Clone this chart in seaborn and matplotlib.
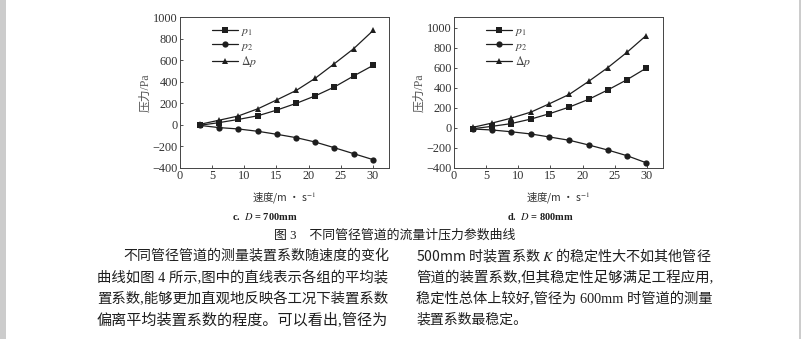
import numpy as np
import pandas as pd
import matplotlib
matplotlib.use("Agg")
import matplotlib.pyplot as plt
import seaborn as sns
from matplotlib.patches import Rectangle

# ---------------- data ----------------
series_names = ["$p_1$", "$p_2$", r"$\Delta p$"]

speed_c = [3.1, 6.0, 9.05, 12.15, 15.1, 18.1, 21.0, 24.0, 27.0, 30.05]
p1_c = [-4, 20, 50, 85, 138, 200, 268, 351, 453, 552]
p2_c = [-5, -25, -38, -60, -88, -119, -159, -212, -267, -323]
dp_c = [5, 42, 82, 150, 233, 320, 431, 567, 706, 876]

speed_d = [2.95, 5.95, 8.8, 12.0, 14.85, 17.95, 20.95, 23.9, 26.9, 29.85]
p1_d = [-7, 17, 43, 90, 143, 210, 287, 380, 483, 597]
p2_d = [-10, -20, -37, -60, -90, -123, -170, -220, -277, -347]
dp_d = [7, 50, 97, 160, 243, 337, 467, 603, 757, 923]

x_ticks = [0, 5, 10, 15, 20, 25, 30]
y_ticks = [-400, -200, 0, 200, 400, 600, 800, 1000]

x_label = "速度/m · s$^{-1}$"
y_label = "压力/Pa"
sub_c = "c.  $\\mathit{D}$ = 700mm"
sub_d = "d.  $\\mathit{D}$ = 800mm"
fig_caption = "图 3　不同管径管道的流量计压力参数曲线"
left_lines = [
    "不同管径管道的测量装置系数随速度的变化",
    "曲线如图 4 所示,图中的直线表示各组的平均装",
    "置系数,能够更加直观地反映各工况下装置系数",
    "偏离平均装置系数的程度。可以看出,管径为",
]
right_lines = [
    "500mm 时装置系数 $K$ 的稳定性大不如其他管径",
    "管道的装置系数,但其稳定性足够满足工程应用,",
    "稳定性总体上较好,管径为 600mm 时管道的测量",
    "装置系数最稳定。",
]

# ---------------- style ----------------
sns.set_theme(style="ticks")
plt.rcParams["font.family"] = ["Liberation Serif", "Noto Sans CJK SC", "DejaVu Sans"]
plt.rcParams["mathtext.fontset"] = "stix"
ink = "#1e1e1e"
txt = "#333333"
cjk_mix = ["Liberation Serif", "Noto Sans CJK SC", "DejaVu Sans"]
cjk_first = ["Noto Sans CJK SC", "DejaVu Sans"]

W, H = 801, 339
fig = plt.figure(figsize=(W / 100, H / 100), dpi=100)
fig.patch.set_facecolor("white")


def px_axes(l, t, r, b):
    return fig.add_axes([l / W, 1 - b / H, (r - l) / W, (b - t) / H])


def make_df(speed, p1, p2, dp):
    rows = []
    for name, vals in zip(series_names, [p1, p2, dp]):
        for s, v in zip(speed, vals):
            rows.append({"speed": s, "pressure": v, "series": name})
    return pd.DataFrame(rows)


markers = {series_names[0]: "s", series_names[1]: "o", series_names[2]: "^"}
palette = {n: ink for n in series_names}


def draw(ax, df, ytop):
    sns.lineplot(data=df, x="speed", y="pressure", hue="series", style="series",
                 markers=markers, dashes=False, palette=palette, ax=ax,
                 linewidth=0.9, markersize=4.5, markeredgewidth=0, sort=False)
    ax.set_xlim(0, 32.5)
    ax.set_ylim(-400, ytop)
    ax.set_xticks(x_ticks)
    ax.set_yticks(y_ticks)
    ax.tick_params(direction="in", length=2.5, width=0.6, labelsize=8.8,
                   colors=txt, pad=1.5)
    for sp in ax.spines.values():
        sp.set_linewidth(0.7)
        sp.set_color("#444444")
    ax.set_xlabel(x_label, fontsize=7.5, color=txt, labelpad=6, family=cjk_first)
    ax.set_ylabel(y_label, fontsize=8.5, color="#555555", labelpad=1, family=cjk_mix)
    leg = ax.legend(loc="upper left", bbox_to_anchor=(0.13, 0.98), frameon=False,
                    fontsize=8.5, handlelength=2.2, handletextpad=0.3,
                    labelspacing=0.15, borderaxespad=0)
    for t in leg.get_texts():
        t.set_color("#444444")


ax1 = px_axes(180, 17, 389, 168)
draw(ax1, make_df(speed_c, p1_c, p2_c, dp_c), 1000)
ax2 = px_axes(454, 17, 663, 168)
draw(ax2, make_df(speed_d, p1_d, p2_d, dp_d), 1110)

# ---------------- page text ----------------
fig.text(265 / W, 1 - 216 / H, sub_c, ha="center", va="center", fontsize=7.5,
         color=ink, weight="bold")
fig.text(540 / W, 1 - 216 / H, sub_d, ha="center", va="center", fontsize=7.5,
         color=ink, weight="bold")
fig.text(274 / W, 1 - 235 / H, fig_caption, ha="left", va="center", fontsize=9.3,
         color=ink, family=cjk_mix)

renderer = fig.canvas.get_renderer()
line_y = [256, 278, 299, 320]


def put_line(s, x0, x1, y, fit=True):
    fam = cjk_first if "$" in s else cjk_mix
    t = fig.text(x0 / W, 1 - y / H, s, ha="left", va="center", fontsize=10,
                 color=ink, family=fam)
    if fit:
        w = t.get_window_extent(renderer).width
        fs = 10 * (x1 - x0) / w
        t.set_fontsize(min(max(fs, 9.0), 11.0))
    return t


for i, s in enumerate(left_lines):
    x0 = 123 if i == 0 else 97
    put_line(s, x0, 388, line_y[i])
for i, s in enumerate(right_lines):
    put_line(s, 416, 712, line_y[i], fit=(i < 3))

# grey page margins
fig.add_artist(Rectangle((0, 0), 6 / W, 1, transform=fig.transFigure,
                         color="#cccccc", lw=0))
fig.add_artist(Rectangle((799 / W, 0), 2 / W, 1, transform=fig.transFigure,
                         color="#cccccc", lw=0))

fig.savefig("out.png", dpi=100, facecolor="white")
